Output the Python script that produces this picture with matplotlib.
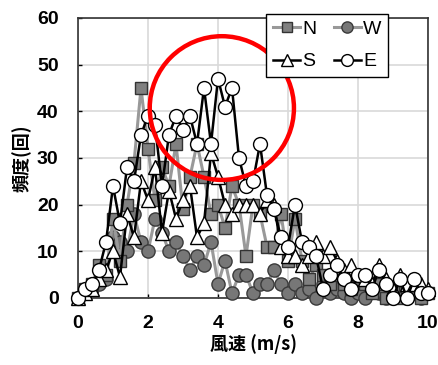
import numpy as np
import matplotlib
matplotlib.use("Agg")
import matplotlib.pyplot as plt
from matplotlib.patches import Ellipse

plt.rcParams['font.family'] = ['Liberation Sans', 'Noto Sans CJK JP', 'DejaVu Sans']

wind = [round(0.2 * i, 1) for i in range(51)]

N = [0, 2, 3, 7, 5, 17, 8, 20, 29, 45, 32, 21, 28, 24, 33, 19, 26, 33, 26, 18,
     20, 15, 24, 20, 9, 20, 18, 11, 11, 18, 8, 17, 8, 4, 7, 5, 3, 5, 3, 2,
     4, 3, 1, 3, 0, 2, 0, 2, 1, 0, 1]
W = [0, 1, 2, 3, 4, 13, 12, 10, 18, 12, 10, 17, 14, 10, 12, 9, 6, 9, 7, 12,
     3, 8, 1, 5, 5, 1, 3, 3, 6, 3, 1, 3, 1, 2, 0, 3, 1, 2, 1, 0,
     1, 0, 2, 1, 0, 1, 1, 0, 2, 0, 1]
S = [0, 1, 2, 4, 6, 10, 4.5, 18, 13, 25, 21, 28, 14, 23, 17, 21, 24, 13, 16, 31,
     26, 20, 18, 20, 20, 20, 18, 21, 20, 11, 9, 9, 7, 9, 12, 9, 11, 8, 6, 7,
     5, 4, 3, 7, 4, 2, 5, 3, 3, 3, 2]
E = [0, 2, 3, 6, 12, 24, 16, 28, 25, 35, 39, 37, 24, 35, 39, 36, 39, 33, 45, 33,
     47, 41, 45, 30, 24, 25, 33, 22, 19, 13, 11, 20, 12, 11, 9, 2, 5, 7, 4, 2,
     5, 5, 2, 6, 3, 0, 4, 0, 4, 1, 1]

fig = plt.figure(figsize=(4.38, 3.65), dpi=100)
ax = fig.add_axes([78/438, 1 - 298/365, 350/438, 280/365])

ax.plot(wind, W, color='#999999', lw=2.2, marker='o', ms=9.5, mfc='#777777',
        mec='#3a3a3a', mew=1.0, label='W', zorder=3, clip_on=False)
ax.plot(wind, N, color='#999999', lw=2.2, marker='s', ms=9, mfc='#808080',
        mec='#333333', mew=1.0, label='N', zorder=4, clip_on=False)
ax.plot(wind, S, color='black', lw=1.8, marker='^', ms=10, mfc='white',
        mec='black', mew=1.0, label='S', zorder=5, clip_on=False)
ax.plot(wind, E, color='black', lw=1.8, marker='o', ms=10, mfc='white',
        mec='black', mew=1.0, label='E', zorder=6, clip_on=False)

ax.add_patch(Ellipse((4.11, 40.7), 4.12, 30.8, fill=False, edgecolor='#ff0000',
                     lw=3.2, zorder=10, clip_on=False))

ax.set_xlim(0, 10)
ax.set_ylim(0, 60)
ax.set_xticks([0, 2, 4, 6, 8, 10])
ax.set_yticks(range(0, 61, 10))
ax.grid(True, color='#d9d9d9', lw=1.2, zorder=0)
ax.set_axisbelow(True)
ax.tick_params(direction='in', length=3, width=1, labelsize=14)
ax.tick_params(axis='y', pad=14)
ax.tick_params(axis='x', pad=12)
for lab in ax.get_xticklabels() + ax.get_yticklabels():
    lab.set_fontweight('bold')
for sp in ax.spines.values():
    sp.set_linewidth(1.2)
    sp.set_color('#333333')

ax.set_xlabel('風速 (m/s)', fontsize=13, fontweight='bold',
              family=['Noto Sans CJK JP', 'DejaVu Sans'], labelpad=2)
ax.set_ylabel('頻度(回)', fontsize=13, fontweight='bold',
              family=['Noto Sans CJK JP', 'DejaVu Sans'], labelpad=4)

handles, labels = ax.get_legend_handles_labels()
hd = dict(zip(labels, handles))
order = ['N', 'S', 'W', 'E']
leg = ax.legend([hd[k] for k in order], order, ncol=2, loc='upper left',
                bbox_to_anchor=(0.51, 1.05),
                frameon=True, fancybox=False, edgecolor='black', framealpha=1,
                fontsize=14, handlelength=1.4, handletextpad=0.1,
                columnspacing=0.9, borderpad=0.35, labelspacing=0.75,
                markerscale=0.85)
leg.get_frame().set_linewidth(1.0)
leg.set_zorder(20)

fig.savefig('out.png', dpi=100)
